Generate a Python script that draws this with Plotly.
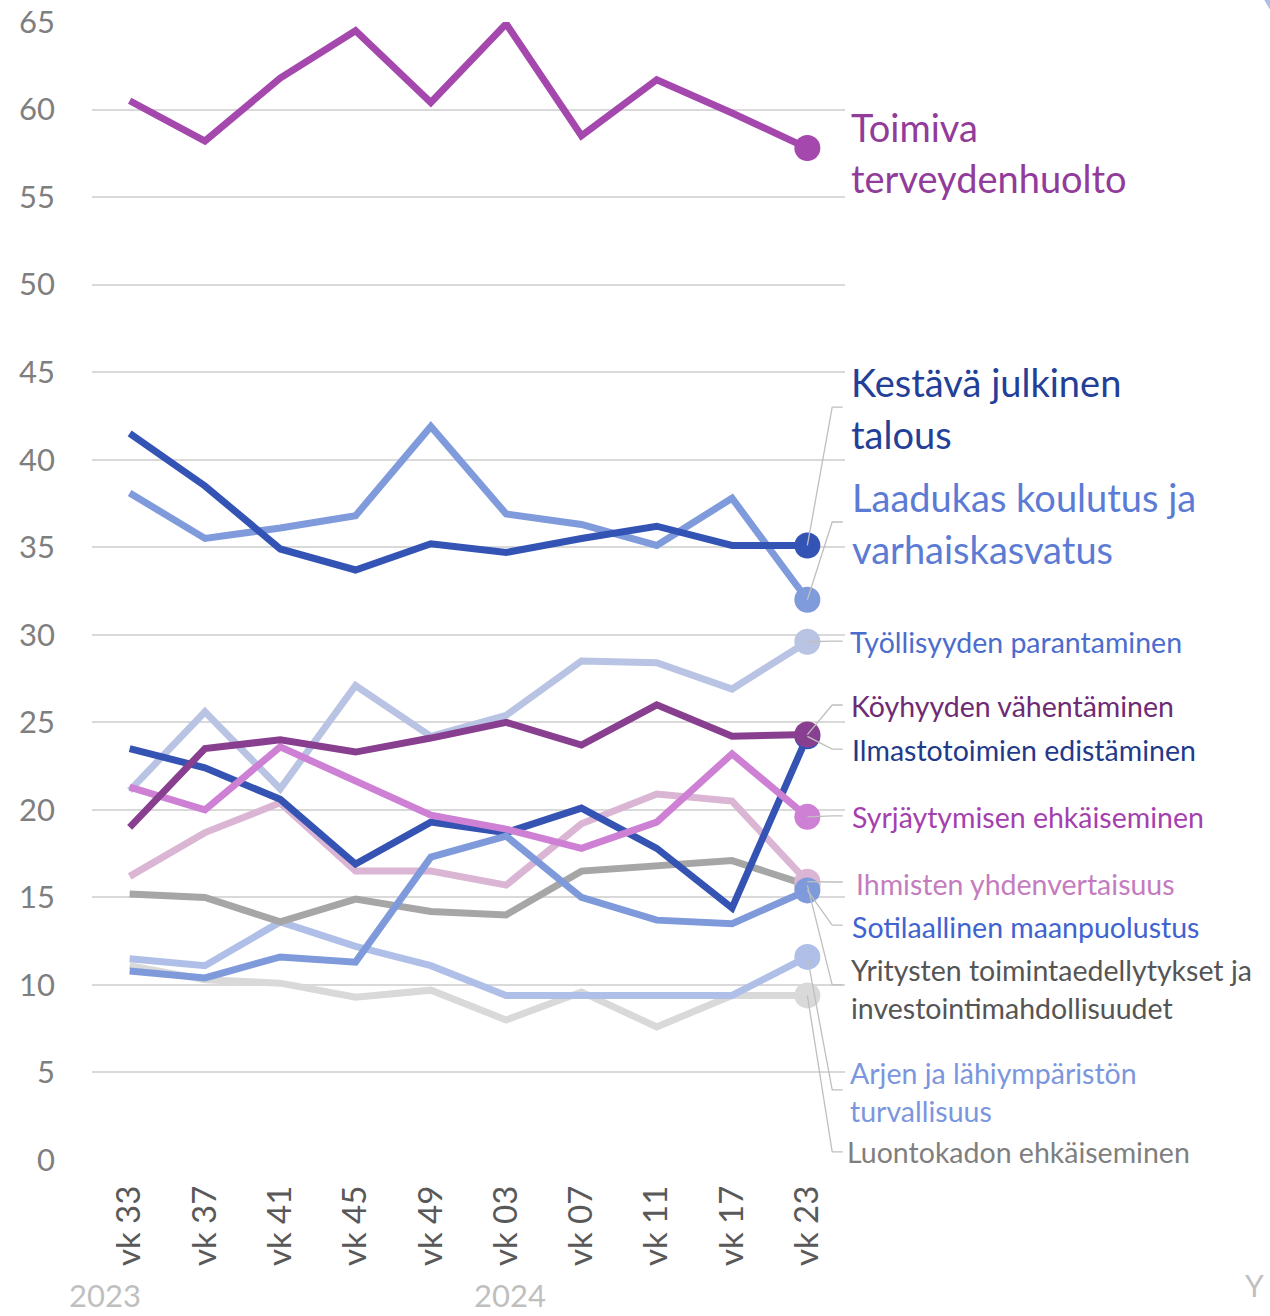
import plotly.graph_objects as go

weeks = ["vk 33", "vk 37", "vk 41", "vk 45", "vk 49", "vk 03", "vk 07", "vk 11", "vk 17", "vk 23"]
y_ticks = [0, 5, 10, 15, 20, 25, 30, 35, 40, 45, 50, 55, 60, 65]

toimiva = [60.5, 58.2, 61.8, 64.5, 60.4, 64.9, 58.5, 61.7, 59.8, 57.8]
kestava = [41.5, 38.5, 34.9, 33.7, 35.2, 34.7, 35.5, 36.2, 35.1, 35.1]
laadukas = [38.1, 35.5, 36.1, 36.8, 41.9, 36.9, 36.3, 35.1, 37.8, 32.0]
tyollisyys = [21.1, 25.6, 21.2, 27.1, 24.2, 25.4, 28.5, 28.4, 26.9, 29.6]
koyhyys = [19.0, 23.5, 24.0, 23.3, 24.1, 25.0, 23.7, 26.0, 24.2, 24.3]
ilmasto = [23.5, 22.4, 20.6, 16.9, 19.3, 18.7, 20.1, 17.8, 14.4, 24.2]
syrjaytyminen = [21.3, 20.0, 23.6, 21.6, 19.7, 18.9, 17.8, 19.3, 23.2, 19.6]
ihmiset = [16.2, 18.7, 20.4, 16.5, 16.5, 15.7, 19.2, 20.9, 20.5, 15.9]
sotilas = [10.8, 10.4, 11.6, 11.3, 17.3, 18.5, 15.0, 13.7, 13.5, 15.4]
yritykset = [15.2, 15.0, 13.6, 14.9, 14.2, 14.0, 16.5, 16.8, 17.1, 15.7]
arki = [11.5, 11.1, 13.6, 12.2, 11.1, 9.4, 9.4, 9.4, 9.4, 11.6]
luonto = [11.1, 10.3, 10.1, 9.3, 9.7, 8.0, 9.6, 7.6, 9.4, 9.4]

years = ["2023", "2024"]

BIG, SMALL = 38, 28.5
# (name, values, line colour, label lines, label colour, font size, label y (data units), elbow y or None, label x shift px)
series = [
    ("Luontokadon ehkäiseminen", luonto, "#D9D9D9", ["Luontokadon ehkäiseminen"], "#7F7F7F", SMALL, [0.46], 0.46, -4),
    ("Arjen ja lähiympäristön turvallisuus", arki, "#AFBFE8", ["Arjen ja lähiympäristön", "turvallisuus"], "#7B96DE", SMALL, [4.97, 2.80], 4.0, -1),
    ("Yritysten toimintaedellytykset ja investointimahdollisuudet", yritykset, "#A6A6A6",
     ["Yritysten toimintaedellytykset ja", "investointimahdollisuudet"], "#555555", SMALL, [10.85, 8.68], 10.0, 0),
    ("Ihmisten yhdenvertaisuus", ihmiset, "#DBB6D4", ["Ihmisten yhdenvertaisuus"], "#C47CBF", SMALL, [15.76], 15.88, 5),
    ("Työllisyyden parantaminen", tyollisyys, "#B9C3E3", ["Työllisyyden parantaminen"], "#4C6CCD", SMALL, [29.58], 29.64, -1),
    ("Laadukas koulutus ja varhaiskasvatus", laadukas, "#809BDC", ["Laadukas koulutus ja", "varhaiskasvatus"], "#5B7BD5", BIG, [37.86, 34.89], 36.44, 1),
    ("Ilmastotoimien edistäminen", ilmasto, "#3553B2", ["Ilmastotoimien edistäminen"], "#1F3A8A", SMALL, [23.42], 23.47, 1),
    ("Syrjäytymisen ehkäiseminen", syrjaytyminen, "#CD80D4", ["Syrjäytymisen ehkäiseminen"], "#A43FB0", SMALL, [19.59], 19.65, 1),
    ("Sotilaallinen maanpuolustus", sotilas, "#7F9ADB", ["Sotilaallinen maanpuolustus"], "#3F63CF", SMALL, [13.31], 13.42, 1),
    ("Köyhyyden vähentäminen", koyhyys, "#893F8F", ["Köyhyyden vähentäminen"], "#6E2A73", SMALL, [25.93], 25.99, 0),
    ("Kestävä julkinen talous", kestava, "#3454B5", ["Kestävä julkinen", "talous"], "#233F97", BIG, [44.43, 41.46], 43.0, 0),
    ("Toimiva terveydenhuolto", toimiva, "#A548AE", ["Toimiva", "terveydenhuolto"], "#913C9A", BIG, [59.0, 56.08], None, 0),
]

FONT = "Lato, 'Open Sans', sans-serif"

fig = go.Figure()
annotations = []
shapes = []

label_x = 1.0050   # paper units, just right of the plot area
elbow_x = 9.33
end_x = 9.47

for name, vals, col, lines, tcol, fsize, ly, elbow, dx in series:
    fig.add_trace(go.Scatter(
        x=list(range(len(weeks))), y=vals, mode="lines", name=name,
        line=dict(color=col, width=7), showlegend=False, hoverinfo="skip"))
    fig.add_trace(go.Scatter(
        x=[len(weeks) - 1], y=[vals[-1]], mode="markers", name=name,
        marker=dict(color=col, size=26), showlegend=False, hoverinfo="skip", cliponaxis=False))
    for txt, yy in zip(lines, ly):
        annotations.append(dict(x=label_x, y=yy, xref="paper", yref="y", text=txt, showarrow=False,
                                xanchor="left", yanchor="middle", xshift=dx,
                                font=dict(family=FONT, size=fsize, color=tcol)))
    if elbow is not None:
        shapes.append(dict(type="path", xref="x", yref="y",
                           path=f"M {len(weeks)-1},{vals[-1]} L {elbow_x},{elbow} L {end_x},{elbow}",
                           line=dict(color="#BFBFBF", width=1.3), layer="above"))

# year labels
annotations.append(dict(x=-0.33, y=-0.1358, xref="x", yref="paper", text=years[0], showarrow=False,
                        xanchor="center", yanchor="bottom", borderpad=0,
                        font=dict(family=FONT, size=31, color="#BFBFBF")))
annotations.append(dict(x=5.05, y=-0.1358, xref="x", yref="paper", text=years[1], showarrow=False,
                        xanchor="center", yanchor="bottom", borderpad=0,
                        font=dict(family=FONT, size=31, color="#BFBFBF")))
# decoration letter at the bottom right
annotations.append(dict(x=1.0, y=-0.11, xref="paper", yref="paper", xshift=398, text="Y", showarrow=False,
                        xanchor="left", yanchor="middle", font=dict(family=FONT, size=30, color="#BFBFBF")))
# cut-off decoration at the top right
shapes.append(dict(type="path", xref="paper", yref="paper",
                   path="M 1.5568,1.0193 L 1.5780,1.0193 L 1.5780,0.996 Z",
                   fillcolor="#AEBEE8", line=dict(width=0), layer="above"))

fig.update_layout(
    width=1270, height=1316,
    margin=dict(l=92, r=425, t=22, b=156),
    plot_bgcolor="white", paper_bgcolor="white",
    annotations=annotations, shapes=shapes,
    xaxis=dict(range=[-0.5, 9.5], tickmode="array", tickvals=list(range(len(weeks))), ticktext=weeks,
               tickangle=-90, showgrid=False, zeroline=False, showline=False, ticks="",
               ticklabelstandoff=18, automargin=False,
               tickfont=dict(family=FONT, size=33, color="#595959")),
    yaxis=dict(range=[0, 65], tickmode="array", tickvals=y_ticks, ticktext=[str(v) for v in y_ticks],
               showgrid=True, gridcolor="#D9D9D9", gridwidth=2, zeroline=False, showline=False, ticks="",
               ticklabelstandoff=36, automargin=False,
               tickfont=dict(family=FONT, size=31, color="#7F7F7F")),
)

fig.write_html("out.html", config={"displayModeBar": False},
               post_script="document.body.style.margin='0';")
